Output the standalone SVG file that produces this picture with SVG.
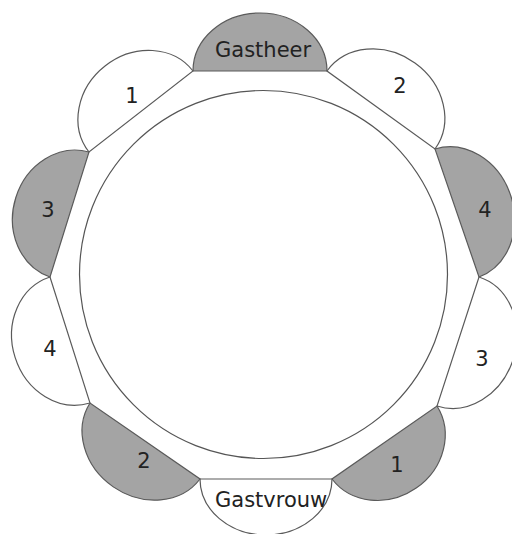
<svg xmlns="http://www.w3.org/2000/svg" width="512" height="534" viewBox="0 0 512 534">
<style>
.chair{stroke:#5a5a5a;stroke-width:1.2}
.gray{fill:#a4a4a4}
.white{fill:#ffffff}
.table{fill:#ffffff;stroke:#555;stroke-width:1.2}
.lbl{font-family:"DejaVu Sans",Verdana,sans-serif;font-size:21px;fill:#222}
.num{text-anchor:middle}
</style>
<defs>
<clipPath id="cpHeer"><path d="M193,71 A67,58 0 0 1 327,71 Z"/></clipPath>
<clipPath id="cpVrouw"><path d="M332,479 A66,56 0 0 1 200,479 Z"/></clipPath>
</defs>
<rect width="512" height="534" fill="#fff"/>
<g id="table"><circle class="table" cx="263.5" cy="274.5" r="184"/></g>
<g id="gastheer">
<path class="chair gray" d="M193,71 A67,58 0 0 1 327,71 Z"/>
<text class="lbl" x="215" y="57" clip-path="url(#cpHeer)">Gastheer</text>
</g>
<g id="chair-r2">
<path class="chair white" d="M327,71 A66.6,58 35.8 0 1 435,149 Z"/>
<text class="lbl num" x="400" y="93">2</text>
</g>
<g id="chair-r4">
<path class="chair gray" d="M435,149 A67.7,58 71 0 1 479,277 Z"/>
<text class="lbl num" x="485" y="217">4</text>
</g>
<g id="chair-r3">
<path class="chair white" d="M479,277 A67.8,58 108 0 1 437,406 Z"/>
<text class="lbl num" x="482" y="366">3</text>
</g>
<g id="chair-r1">
<path class="chair gray" d="M437,406 A64,58 145.2 0 1 332,479 Z"/>
<text class="lbl num" x="397" y="472">1</text>
</g>
<g id="gastvrouw">
<path class="chair white" d="M332,479 A66,56 0 0 1 200,479 Z"/>
<text class="lbl" x="215" y="507" clip-path="url(#cpVrouw)">Gastvrouw</text>
</g>
<g id="chair-l2">
<path class="chair gray" d="M200,479 A66.9,58 214.6 0 1 90,403 Z"/>
<text class="lbl num" x="144" y="468">2</text>
</g>
<g id="chair-l4">
<path class="chair white" d="M90,403 A66.1,58 252.4 0 1 50,277 Z"/>
<text class="lbl num" x="50" y="356">4</text>
</g>
<g id="chair-l3">
<path class="chair gray" d="M50,277 A65.5,58 -72.7 0 1 89,152 Z"/>
<text class="lbl num" x="48" y="217">3</text>
</g>
<g id="chair-l1">
<path class="chair white" d="M89,152 A65.9,58 -37.9 0 1 193,71 Z"/>
<text class="lbl num" x="132" y="103">1</text>
</g>
</svg>
